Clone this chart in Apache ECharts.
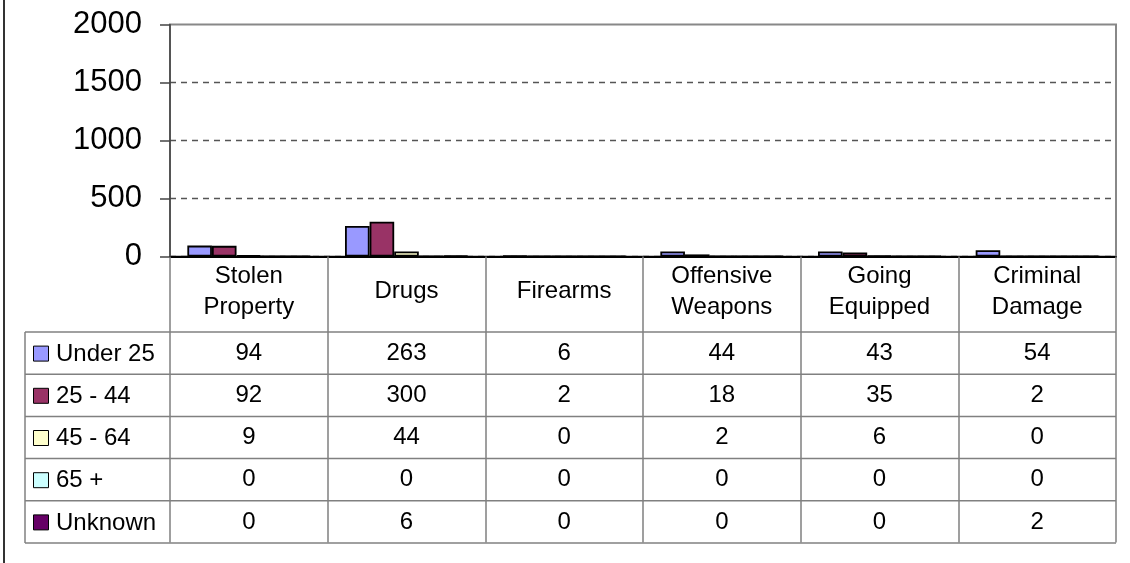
<!DOCTYPE html>
<html>
<head>
<meta charset="utf-8">
<script src="https://cdn.jsdelivr.net/npm/echarts@6/dist/echarts.min.js"></script>
<style>
  html, body { margin: 0; padding: 0; background: #fff; }
  #chart { width: 1130px; height: 563px; }
</style>
</head>
<body>
<div id="chart"></div>
<script>
    // data
    var categories = ['Stolen Property', 'Drugs', 'Firearms', 'Offensive Weapons', 'Going Equipped', 'Criminal Damage'];
    var seriesNames = ['Under 25', '25 - 44', '45 - 64', '65 +', 'Unknown'];
    var under25 = [94, 263, 6, 44, 43, 54];
    var age25to44 = [92, 300, 2, 18, 35, 2];
    var age45to64 = [9, 44, 0, 2, 6, 0];
    var age65plus = [0, 0, 0, 0, 0, 0];
    var unknownAge = [0, 6, 0, 0, 0, 2];
    var colors = ['#9999FF', '#993366', '#FFFFCC', '#CCFFFF', '#660066'];

    var rows = [under25, age25to44, age45to64, age65plus, unknownAge];
    var font = 'Liberation Sans, Arial, sans-serif';

    var chart = echarts.init(document.getElementById('chart'));

    var series = [];
    for (var i = 0; i < rows.length; i++) {
        series.push({
            name: seriesNames[i],
            type: 'bar',
            data: rows[i],
            barGap: '0%',
            barCategoryGap: '22%',
            itemStyle: { color: colors[i], borderColor: '#000', borderWidth: 1.8 },
            animation: false
        });
    }

    chart.setOption({
        animation: false,
        textStyle: { fontFamily: font },
        grid: { left: 170, top: 24.5, width: 946, height: 232, show: true, borderColor: '#888', borderWidth: 2 },
        xAxis: {
            type: 'category',
            data: categories,
            z: 5,
            axisLine: { lineStyle: { color: '#000', width: 2.2 } },
            axisTick: { show: true, interval: 0, length: 286, lineStyle: { color: '#808080', width: 1.5 } },
            axisLabel: {
                interval: 0,
                color: '#000',
                fontSize: 24,
                lineHeight: 31,
                margin: 35,
                verticalAlign: 'middle',
                formatter: function (v) { return v.replace(' ', '\n'); }
            }
        },
        yAxis: {
            type: 'value',
            min: 0,
            max: 2000,
            interval: 500,
            axisLine: { show: true, lineStyle: { color: '#444', width: 1.5 } },
            axisTick: { show: true, length: 10, lineStyle: { color: '#444', width: 1.5 } },
            axisLabel: { color: '#000', fontSize: 31, margin: 28, formatter: function (v) { return String(v); } },
            splitLine: { show: true, showMaxLine: false, lineStyle: { color: '#555', type: [6, 5], width: 1.3 } }
        },
        series: series
    });

    // data table under the chart
    function drawTable() {
        var x0 = chart.convertToPixel({ xAxisIndex: 0 }, 0);
        var x1 = chart.convertToPixel({ xAxisIndex: 0 }, 1);
        var colW = x1 - x0;
        var gridLeft = x0 - colW / 2;
        var gridRight = gridLeft + colW * categories.length;
        var tableTop = 332, rowH = 42.2, legendLeft = 25;
        var els = [];
        var lineStyle = { stroke: '#808080', lineWidth: 1.5 };

        for (var r = 0; r <= rows.length; r++) {
            var y = tableTop + r * rowH;
            els.push({ type: 'line', shape: { x1: legendLeft, y1: y, x2: gridRight, y2: y }, style: lineStyle });
        }
        els.push({ type: 'line', shape: { x1: legendLeft, y1: tableTop, x2: legendLeft, y2: tableTop + rows.length * rowH }, style: lineStyle });

        for (var r = 0; r < rows.length; r++) {
            var cy = tableTop + (r + 0.5) * rowH;
            els.push({ type: 'rect', shape: { x: 33.5, y: cy - 7, width: 15, height: 15 },
                style: { fill: colors[r], stroke: '#000', lineWidth: 1 } });
            els.push({ type: 'text', style: { text: seriesNames[r], x: 56, y: cy + 1, textAlign: 'left', textVerticalAlign: 'middle',
                fontSize: 24, fontFamily: font, fill: '#000' } });
            for (var c = 0; c < categories.length; c++) {
                var cx = chart.convertToPixel({ xAxisIndex: 0 }, c);
                els.push({ type: 'text', style: { text: String(rows[r][c]), x: cx, y: cy, textAlign: 'center', textVerticalAlign: 'middle',
                    fontSize: 24, fontFamily: font, fill: '#000' } });
            }
        }

        // outer frame line on the left
        els.push({ type: 'line', shape: { x1: 4, y1: 0, x2: 4, y2: 563 }, style: { stroke: '#333', lineWidth: 2 } });

        chart.setOption({ graphic: { elements: els } });
    }
    drawTable();
</script>
</body>
</html>
